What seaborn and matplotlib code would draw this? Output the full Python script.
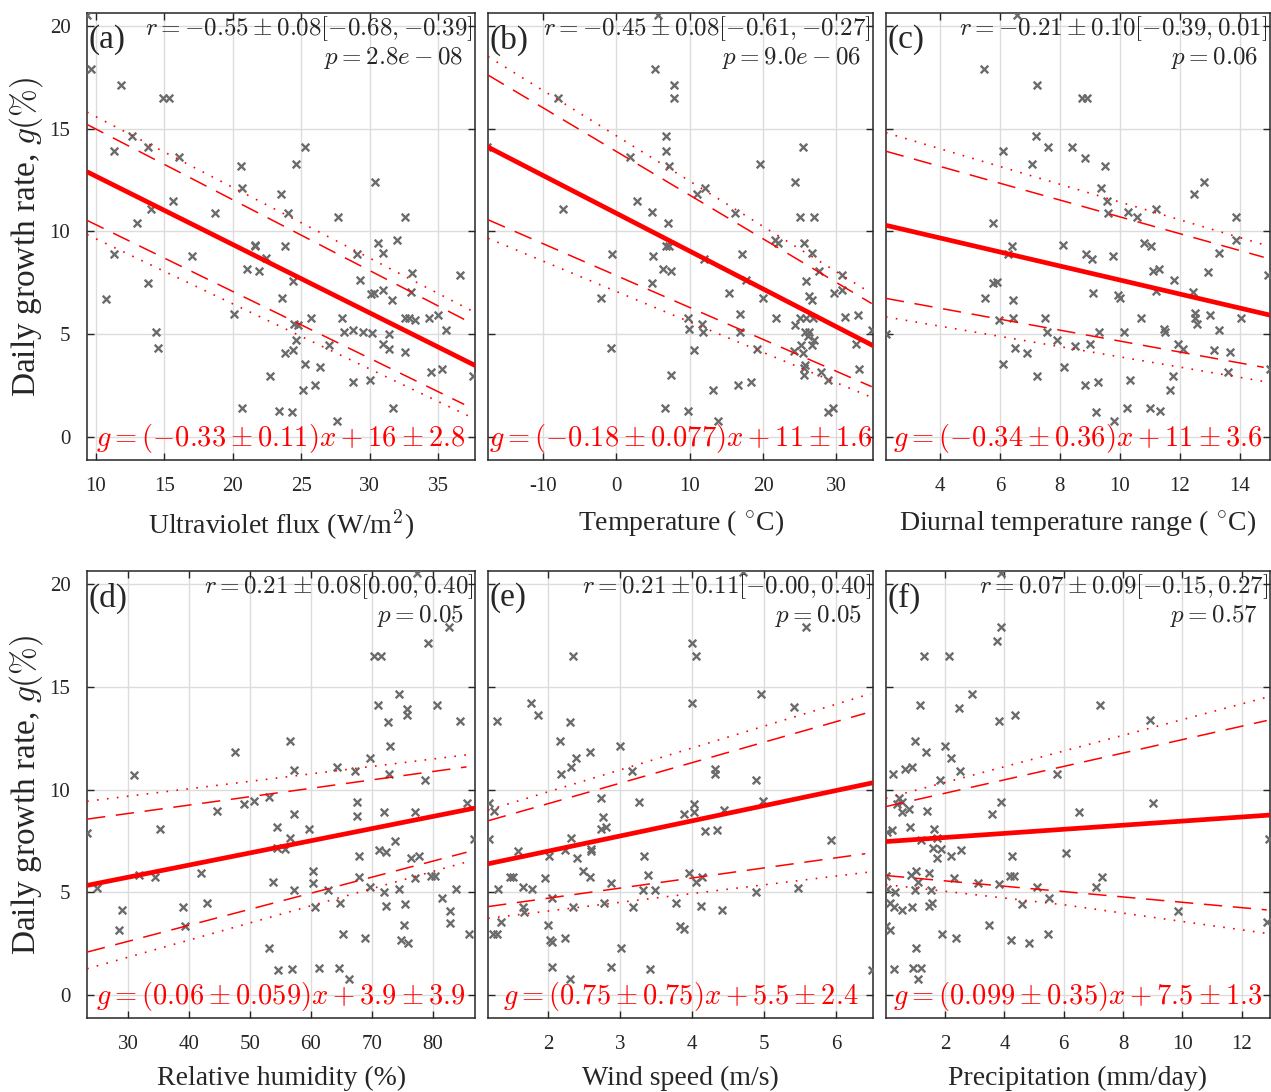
import numpy as np
import matplotlib
matplotlib.use("Agg")
import matplotlib.pyplot as plt
import seaborn as sns

# ---- data (growth rate g in %) ----
uv_x = [9.35, 9.64, 11.8, 14.9, 15.3, 12.6, 11.3, 13.8, 16.1, 20.6, 25.3, 24.6, 20.7, 23.5, 30.4,
        15.6, 14.0, 13.0, 18.7, 24.0, 27.7, 32.6, 11.3, 17.0, 21.6, 21.65, 23.8, 22.4, 30.6, 31.0,
        32.0, 29.1, 21.0, 21.9, 33.1, 36.6, 10.7, 13.8, 24.4, 29.3, 23.6, 30.1, 30.3, 30.97, 33.0,
        31.6, 20.1, 25.7, 28.0, 32.6, 32.9, 33.3, 34.3, 35.0, 24.5, 24.75, 28.1, 28.8, 29.5, 30.2,
        31.4, 35.6, 14.4, 14.5, 24.6, 27.0, 31.0, 31.4, 32.6, 23.8, 24.4, 25.3, 26.4, 34.5, 35.3,
        37.55, 22.7, 25.1, 26.0, 28.8, 30.0, 20.7, 23.4, 24.3, 27.6, 31.7]
uv_g = [20.5, 17.9, 17.1, 16.5, 16.5, 14.65, 13.9, 14.1, 13.6, 13.2, 14.1, 13.3, 12.1, 11.8, 12.4,
        11.5, 11.1, 10.4, 10.9, 10.9, 10.7, 10.7, 8.9, 8.8, 9.35, 9.3, 9.3, 8.7, 9.45, 8.95,
        9.6, 8.9, 8.2, 8.1, 8.0, 7.9, 6.7, 7.5, 7.6, 7.65, 6.75, 6.95, 7.0, 7.15, 7.05,
        6.65, 6.0, 5.8, 5.8, 5.8, 5.8, 5.7, 5.8, 5.95, 5.5, 5.45, 5.1, 5.2, 5.1, 5.05,
        5.0, 5.2, 5.1, 4.35, 4.75, 4.5, 4.55, 4.3, 4.15, 4.1, 4.25, 3.55, 3.4, 3.15, 3.3,
        3.0, 3.0, 2.3, 2.55, 2.7, 2.8, 1.4, 1.3, 1.25, 0.8, 1.4]

temp_x = [5.6, 5.3, 7.9, 7.9, -7.9, 6.8, 6.8, 25.5, 1.8, 7.2, 19.6, -17.6, 24.4, 12.1, 11.0,
          2.8, -7.3, 4.9, 16.1, 25.0, 26.9, 7.0, 21.6, 22.0, 25.6, 6.7, 7.2, -0.6, 5.0, 17.1,
          26.7, 12.0, 6.3, 7.4, 27.6, 30.7, 17.6, 25.8, 4.9, 29.7, 30.7, 15.3, 26.3, 26.7, -2.1,
          20.0, 16.8, 31.1, 32.9, 21.8, 25.0, 25.8, 26.8, 9.7, 11.7, 24.4, 9.9, 11.8, 16.8, 25.7,
          26.3, 26.1, 34.9, 26.9, 25.2, 26.6, 32.6, -0.7, 10.6, 19.1, 24.2, 25.4, 25.75, 25.6, 25.6,
          27.9, 33.0, 7.5, 28.9, 13.1, 16.6, 18.4, 6.6, 9.7, 13.8, 28.9, 29.5]
temp_g = [20.5, 17.9, 17.1, 16.5, 16.5, 14.65, 13.9, 14.1, 13.6, 13.2, 13.3, 14.1, 12.4, 12.1, 11.8,
          11.5, 11.1, 10.95, 10.9, 10.7, 10.7, 10.4, 9.6, 9.45, 9.45, 9.3, 9.3, 8.9, 8.8, 8.9,
          8.95, 8.65, 8.2, 8.1, 8.1, 7.9, 7.65, 7.6, 7.5, 7.0, 7.15, 7.0, 6.85, 6.65, 6.75,
          6.75, 6.0, 5.85, 5.95, 5.8, 5.8, 5.8, 5.8, 5.8, 5.5, 5.45, 5.25, 5.1, 5.1, 5.1,
          5.1, 4.9, 5.2, 4.75, 4.5, 4.5, 4.55, 4.35, 4.25, 4.3, 4.2, 4.1, 3.5, 3.35, 3.05,
          3.15, 3.3, 3.05, 2.8, 2.3, 2.55, 2.7, 1.4, 1.3, 0.8, 1.25, 1.4]

dtr_x = [6.56, 5.47, 7.25, 8.73, 8.92, 7.19, 6.1, 7.6, 8.4, 8.84, 7.08, 9.5, 12.8, 12.47, 9.37,
         9.59, 9.61, 10.26, 10.58, 11.2, 13.87, 5.76, 13.87, 6.41, 6.28, 8.09, 8.88, 9.07, 9.78, 10.82,
         11.05, 13.3, 11.12, 11.3, 12.95, 14.94, 11.8, 11.2, 12.45, 5.76, 5.89, 5.5, 6.44, 9.1, 9.95,
         10.02, 5.97, 6.43, 7.52, 10.72, 12.5, 12.52, 12.58, 13.0, 14.04, 7.58, 9.31, 10.13, 11.49, 11.5,
         13.3, 2.2, 7.89, 8.5, 9.0, 11.94, 12.1, 13.14, 13.68, 6.49, 6.91, 6.12, 8.13, 15.0, 7.25,
         11.77, 13.6, 8.84, 9.26, 10.34, 11.68, 9.2, 10.24, 11.02, 11.35, 9.82]
dtr_g = [20.5, 17.9, 17.1, 16.5, 16.5, 14.65, 13.9, 14.1, 14.1, 13.55, 13.3, 13.2, 12.4, 11.8, 12.1,
         11.5, 10.9, 10.95, 10.7, 11.1, 10.7, 10.4, 9.6, 9.3, 8.9, 9.35, 8.9, 8.65, 8.8, 9.45,
         9.3, 8.95, 8.1, 8.2, 8.05, 7.9, 7.65, 7.1, 7.05, 7.5, 7.55, 6.75, 6.65, 7.0, 6.9,
         6.75, 5.7, 5.8, 5.8, 5.8, 6.05, 5.8, 5.5, 5.95, 5.8, 5.1, 5.1, 5.1, 5.25, 5.1,
         5.2, 5.0, 4.75, 4.45, 4.55, 4.55, 4.3, 4.25, 4.15, 4.35, 4.1, 3.55, 3.4, 3.3, 3.0,
         3.0, 3.15, 2.55, 2.7, 2.8, 2.3, 1.25, 1.4, 1.4, 1.3, 0.8]

rh_x = [77.4, 82.6, 79.2, 70.3, 71.4, 74.4, 71.0, 80.7, 75.7, 75.7, 72.7, 84.5, 56.6, 47.5, 73.0,
        69.6, 31.0, 64.3, 57.2, 67.2, 72.8, 78.7, 53.2, 49.1, 50.7, 44.6, 57.2, 67.6, 67.6, 71.9,
        77.0, 85.6, 23.3, 35.2, 54.4, 59.6, 56.5, 54.4, 55.8, 71.1, 72.3, 73.7, 67.8, 76.4, 77.7,
        86.7, 24.9, 31.8, 34.4, 41.9, 53.8, 60.3, 60.3, 67.8, 77.0, 79.6, 80.4, 57.2, 62.8, 69.7,
        72.0, 74.4, 83.7, 29.0, 39.0, 43.0, 60.7, 64.8, 72.3, 75.4, 81.5, 82.8, 28.6, 39.3, 75.3,
        82.8, 65.2, 68.8, 74.8, 75.9, 85.9, 53.1, 54.6, 56.9, 61.3, 64.6, 66.2]
rh_g = [20.5, 17.9, 17.1, 16.5, 16.5, 14.65, 14.1, 14.1, 13.9, 13.6, 13.3, 13.35, 12.35, 11.8, 12.1,
        11.55, 10.7, 11.1, 10.95, 10.9, 10.75, 10.45, 9.65, 9.3, 9.45, 8.95, 8.8, 9.4, 8.7, 8.9,
        8.9, 9.35, 7.9, 8.1, 8.2, 8.1, 7.65, 7.15, 7.1, 7.05, 6.95, 7.5, 6.75, 6.65, 6.75,
        7.6, 5.2, 5.85, 5.75, 5.95, 5.5, 6.05, 5.45, 5.75, 5.7, 5.8, 5.8, 5.1, 5.1, 5.25,
        5.0, 5.15, 5.15, 4.15, 4.3, 4.5, 4.3, 4.5, 4.35, 4.45, 4.75, 4.1, 3.15, 3.35, 3.4,
        3.5, 3.0, 2.8, 2.7, 2.55, 3.0, 2.3, 1.25, 1.3, 1.35, 1.35, 0.8]

wind_x = [4.7, 5.58, 4.0, 4.05, 2.35, 4.95, 4.0, 5.41, 1.77, 1.86, 1.29, 2.31, 3.0, 2.17, 2.58,
          2.39, 2.32, 2.18, 3.16, 4.31, 4.31, 4.89, 2.73, 3.26, 4.03, 4.98, 1.18, 1.25, 2.77, 3.88,
          4.02, 4.44, 2.73, 2.81, 4.18, 4.34, 1.18, 2.32, 5.92, 1.59, 2.01, 2.24, 2.4, 2.6, 2.6,
          3.33, 1.48, 1.52, 1.96, 2.48, 2.58, 3.39, 3.95, 4.05, 4.14, 1.31, 1.65, 1.78, 2.87, 3.32,
          3.48, 4.89, 5.47, 1.66, 1.67, 2.06, 2.35, 2.78, 3.18, 3.78, 4.12, 4.42, 1.35, 1.24, 1.29,
          2.0, 3.83, 3.88, 2.03, 2.06, 2.24, 3.02, 2.06, 2.88, 3.41, 2.3, 6.49]
wind_g = [20.55, 17.9, 17.1, 16.5, 16.5, 14.65, 14.2, 14.0, 14.2, 13.6, 13.35, 13.3, 12.1, 12.35, 11.8,
          11.55, 11.1, 10.75, 10.9, 11.0, 10.75, 10.45, 9.6, 9.4, 9.3, 9.45, 9.35, 8.95, 8.65, 8.8,
          8.9, 9.0, 8.1, 8.2, 8.0, 8.05, 7.6, 7.65, 7.55, 7.0, 6.75, 7.05, 6.65, 7.1, 7.0,
          6.75, 5.75, 5.75, 5.7, 6.05, 5.75, 5.85, 5.95, 5.5, 5.75, 5.15, 5.25, 5.15, 5.45, 5.1,
          5.1, 5.0, 5.2, 4.3, 4.05, 4.75, 4.3, 4.5, 4.3, 4.5, 4.35, 4.15, 3.55, 3.0, 3.0,
          3.4, 3.35, 3.2, 2.7, 2.6, 2.8, 2.3, 1.4, 1.4, 1.3, 0.8, 1.25]

prec_x = [3.88, 3.88, 3.75, 1.29, 2.14, 2.9, 1.14, 7.24, 2.47, 4.36, 3.82, 8.9, 0.99, 2.0, 1.35,
          2.21, 0.24, 0.65, 0.87, 2.5, 1.82, 5.77, 0.45, 0.53, 0.39, 3.88, 9.0, 0.56, 0.78, 1.4,
          3.57, 6.5, 0.8, 0.05, 0.19, 1.63, 1.18, 1.72, 1.58, 1.86, 1.74, 2.21, 2.55, 4.27, 6.08,
          12.92, 0.02, 0.84, 1.01, 1.07, 1.44, 2.3, 3.11, 4.2, 4.33, 7.29, 0.05, 0.3, 0.98, 1.52,
          3.8, 5.09, 7.09, 0.13, 0.28, 0.53, 0.89, 1.45, 1.54, 4.59, 5.49, 9.85, 0.0, 0.13, 3.49,
          1.88, 2.38, 4.22, 4.84, 5.48, 12.87, 1.0, 0.28, 0.92, 1.18, 1.1]
prec_g = [20.5, 17.9, 17.2, 16.5, 16.5, 14.65, 14.1, 14.1, 13.95, 13.6, 13.35, 13.4, 12.35, 12.1, 11.8,
          11.55, 10.75, 11.0, 11.1, 10.9, 10.45, 10.75, 9.6, 9.4, 9.3, 9.4, 9.35, 8.9, 9.05, 8.95,
          8.8, 8.9, 8.2, 7.95, 8.05, 8.1, 7.55, 7.65, 7.15, 7.1, 6.65, 6.75, 7.05, 6.75, 6.9,
          7.6, 5.8, 5.85, 6.05, 5.5, 5.95, 5.7, 5.45, 5.8, 5.8, 5.75, 5.15, 5.0, 5.1, 5.1,
          5.4, 5.25, 5.25, 4.5, 4.3, 4.15, 4.3, 4.35, 4.5, 4.45, 4.75, 4.1, 3.35, 3.15, 3.4,
          3.0, 2.8, 2.7, 2.55, 3.0, 3.55, 2.3, 1.3, 1.35, 1.35, 0.8]

# fitted line and confidence bands (end values)
uv_fit_x, uv_fit_g = [9.35, 37.7], [12.9, 3.49]
uv_dash_x, uv_dash_hi, uv_dash_lo = [9.35, 36.9], [15.2, 5.73], [10.54, 1.6]
uv_dot_x, uv_dot_hi, uv_dot_lo = [9.35, 37.5], [15.8, 6.13], [9.85, 0.95]

temp_fit_x, temp_fit_g = [-17.5, 35.0], [14.1, 4.45]
temp_dash_x, temp_dash_hi, temp_dash_lo = [-17.5, 34.8], [17.6, 6.5], [10.57, 2.46]
temp_dot_x, temp_dot_hi, temp_dot_lo = [-17.5, 34.6], [18.5, 7.03], [9.67, 1.97]

dtr_fit_x, dtr_fit_g = [2.2, 15.0], [10.3, 5.94]
dtr_dash_x, dtr_dash_hi, dtr_dash_lo = [2.2, 14.8], [13.9, 8.75], [6.75, 3.4]
dtr_dot_x, dtr_dot_hi, dtr_dot_lo = [2.2, 14.94], [14.8, 9.3], [5.85, 2.68]

rh_fit_x, rh_fit_g = [23.3, 86.9], [5.34, 9.1]
rh_dash_x, rh_dash_hi, rh_dash_lo = [23.3, 85.5], [8.56, 11.1], [2.1, 6.95]
rh_dot_x, rh_dot_hi, rh_dot_lo = [23.3, 86.0], [9.43, 11.7], [1.29, 6.52]

wind_fit_x, wind_fit_g = [1.17, 6.51], [6.39, 10.33]
wind_dash_x, wind_dash_hi, wind_dash_lo = [1.17, 6.4], [8.48, 13.7], [4.31, 6.88]
wind_dot_x, wind_dot_hi, wind_dot_lo = [1.17, 6.48], [9.0, 14.66], [3.74, 6.0]

prec_fit_x, prec_fit_g = [0.0, 12.97], [7.47, 8.76]
prec_dash_x, prec_dash_hi, prec_dash_lo = [0.0, 12.85], [9.17, 13.35], [5.82, 4.15]
prec_dot_x, prec_dot_hi, prec_dot_lo = [0.0, 6.0, 12.9], [9.58, 11.87, 14.5], [5.38, 4.4, 3.0]

panel_tags = ["(a)", "(b)", "(c)", "(d)", "(e)", "(f)"]
r_texts = [r"$r = {-0.55} \pm 0.08[-0.68, {-0.39}]$",
           r"$r = {-0.45} \pm 0.08[-0.61, {-0.27}]$",
           r"$r = {-0.21} \pm 0.10[-0.39, 0.01]$",
           r"$r = 0.21 \pm 0.08[0.00, 0.40]$",
           r"$r = 0.21 \pm 0.11[-0.00, 0.40]$",
           r"$r = 0.07 \pm 0.09[-0.15, 0.27]$"]
p_texts = [r"$p = 2.8e - 08$", r"$p = 9.0e - 06$", r"$p = 0.06$",
           r"$p = 0.05$", r"$p = 0.05$", r"$p = 0.57$"]
fit_texts = [r"$g = (-0.33 \pm 0.11)x + 16 \pm 2.8$",
             r"$g = (-0.18 \pm 0.077)x + 11 \pm 1.6$",
             r"$g = (-0.34 \pm 0.36)x + 11 \pm 3.6$",
             r"$g = (0.06 \pm 0.059)x + 3.9 \pm 3.9$",
             r"$g = (0.75 \pm 0.75)x + 5.5 \pm 2.4$",
             r"$g = (0.099 \pm 0.35)x + 7.5 \pm 1.3$"]
x_labels = [r"Ultraviolet flux (W/m$^2$)", r"Temperature ( $^{\circ}$C)",
            r"Diurnal temperature range ( $^{\circ}$C)", "Relative humidity (%)",
            "Wind speed (m/s)", "Precipitation (mm/day)"]
x_ticks = [[10, 15, 20, 25, 30, 35], [-10, 0, 10, 20, 30], [4, 6, 8, 10, 12, 14],
           [30, 40, 50, 60, 70, 80], [2, 3, 4, 5, 6], [2, 4, 6, 8, 10, 12]]
x_lims = [(9.35, 37.7), (-17.5, 35.0), (2.2, 15.0), (23.3, 86.9), (1.17, 6.51), (0.0, 12.95)]
y_ticks = [0, 5, 10, 15, 20]

sns.set_style("ticks")
plt.rcParams["font.family"] = ["Liberation Serif", "DejaVu Serif"]
plt.rcParams["mathtext.fontset"] = "cm"
plt.rcParams["axes.unicode_minus"] = False

fig = plt.figure(figsize=(12.71, 10.92), dpi=100)

lefts = [0.0685, 0.384, 0.697]
widths = [0.3053, 0.303, 0.302]
bottoms = [0.5788, 0.0678]
height = 0.409

panels = [
    (uv_x, uv_g, uv_fit_x, uv_fit_g, uv_dash_x, uv_dash_hi, uv_dash_lo, uv_dot_x, uv_dot_hi, uv_dot_lo),
    (temp_x, temp_g, temp_fit_x, temp_fit_g, temp_dash_x, temp_dash_hi, temp_dash_lo, temp_dot_x, temp_dot_hi, temp_dot_lo),
    (dtr_x, dtr_g, dtr_fit_x, dtr_fit_g, dtr_dash_x, dtr_dash_hi, dtr_dash_lo, dtr_dot_x, dtr_dot_hi, dtr_dot_lo),
    (rh_x, rh_g, rh_fit_x, rh_fit_g, rh_dash_x, rh_dash_hi, rh_dash_lo, rh_dot_x, rh_dot_hi, rh_dot_lo),
    (wind_x, wind_g, wind_fit_x, wind_fit_g, wind_dash_x, wind_dash_hi, wind_dash_lo, wind_dot_x, wind_dot_hi, wind_dot_lo),
    (prec_x, prec_g, prec_fit_x, prec_fit_g, prec_dash_x, prec_dash_hi, prec_dash_lo, prec_dot_x, prec_dot_hi, prec_dot_lo),
]

for i, (xs, gs, fx, fg, dx, dhi, dlo, ox, ohi, olo) in enumerate(panels):
    row, col = divmod(i, 3)
    ax = fig.add_axes([lefts[col], bottoms[row], widths[col], height])

    sns.scatterplot(x=xs, y=gs, ax=ax, marker="x", color="#6b6b6b", s=30,
                    linewidth=1.7, zorder=3)
    sns.lineplot(x=fx, y=fg, ax=ax, color="red", lw=3.4, zorder=4)
    for ys in (dhi, dlo):
        sns.lineplot(x=dx, y=ys, ax=ax, color="red", lw=1.1, zorder=4,
                     linestyle=(0, (12, 7)))
    for ys in (ohi, olo):
        sns.lineplot(x=ox, y=ys, ax=ax, color="red", lw=1.2, zorder=4,
                     linestyle=(0, (1, 5)))

    ax.set_xlim(*x_lims[i])
    ax.set_ylim(-1.1, 20.6)
    ax.set_xticks(x_ticks[i])
    ax.set_xticklabels([str(t) for t in x_ticks[i]])
    ax.set_yticks(y_ticks)
    if col == 0:
        ax.set_yticklabels([str(t) for t in y_ticks])
        ax.set_ylabel(r"Daily growth rate, $g(\%)$", fontsize=24)
        ax.yaxis.set_label_coords(-0.108, 0.5)
    else:
        ax.set_yticklabels([])
    ax.set_xlabel(x_labels[i], fontsize=20, labelpad=9)

    ax.grid(True, color="#dcdcdc", lw=1.0)
    ax.set_axisbelow(True)
    ax.tick_params(direction="in", length=5, width=1, top=True, right=True,
                   labelsize=15, colors="#262626", pad=12)
    for sp in ax.spines.values():
        sp.set_visible(True)
        sp.set_color("#262626")
        sp.set_linewidth(1.1)

    ax.text(0.004, 0.975, panel_tags[i], transform=ax.transAxes, fontsize=24,
            ha="left", va="top", zorder=5)
    ax.text(0.995, 0.997, r_texts[i], transform=ax.transAxes, fontsize=18,
            ha="right", va="top", zorder=5)
    ax.text(0.97, 0.93, p_texts[i], transform=ax.transAxes, fontsize=18,
            ha="right", va="top", zorder=5)
    ax.text(0.5, 0.01, fit_texts[i], transform=ax.transAxes, fontsize=20.5,
            ha="center", va="bottom", color="red", zorder=5)

fig.savefig("out.png", dpi=100)
